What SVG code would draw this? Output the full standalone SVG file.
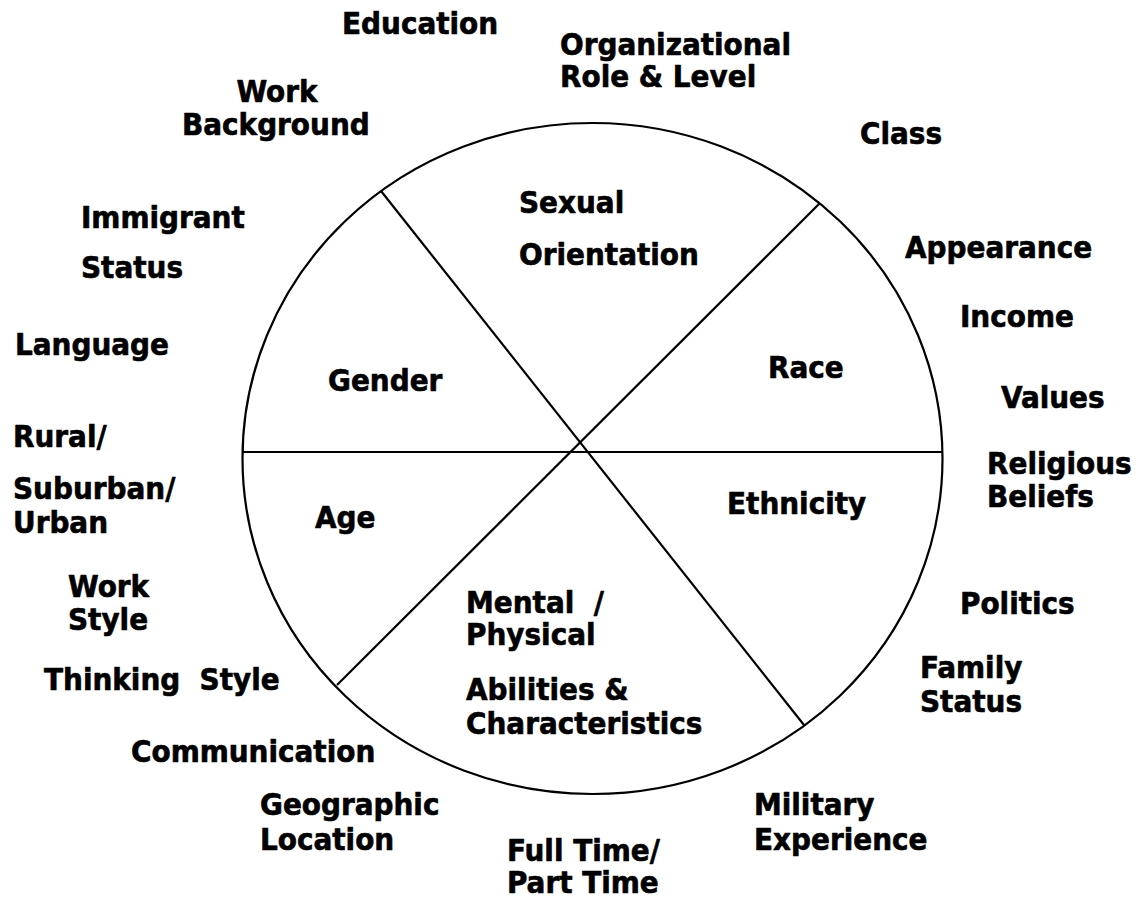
<svg xmlns="http://www.w3.org/2000/svg" width="1138" height="898" viewBox="0 0 1138 898">
<style>
text{font-family:"DejaVu Sans Condensed","DejaVu Sans",Verdana,sans-serif;font-stretch:condensed;font-weight:bold;font-size:31px;fill:#000;stroke:#000;stroke-width:0.6;stroke-linejoin:round}
.ln{stroke:#000;stroke-width:2.2;fill:none}
</style>
<rect width="1138" height="898" fill="#fff"/>
<g id="wheel">
<ellipse class="ln" cx="592.5" cy="458.5" rx="350" ry="335.5" stroke-width="2.6"/>
</g>
<g id="connectors">
<line class="ln" x1="243" y1="452" x2="942" y2="452"/>
<line class="ln" x1="381" y1="191" x2="804" y2="725"/>
<line class="ln" x1="820" y1="203" x2="337" y2="685"/>
</g>
<g id="sexual-orientation"><text x="519" y="213">Sexual</text><text x="519" y="265">Orientation</text></g>
<g id="gender"><text x="328" y="391">Gender</text></g>
<g id="race"><text x="768" y="378">Race</text></g>
<g id="age"><text x="315" y="528">Age</text></g>
<g id="ethnicity"><text x="727" y="514">Ethnicity</text></g>
<g id="abilities"><text x="466" y="613" xml:space="preserve">Mental  /</text><text x="466" y="645">Physical</text><text x="466" y="700">Abilities &amp;</text><text x="466" y="734">Characteristics</text></g>
<g id="education"><text x="342" y="34">Education</text></g>
<g id="organizational-role"><text x="560" y="55">Organizational</text><text x="560" y="87">Role &amp; Level</text></g>
<g id="work-background"><text x="277" y="102" text-anchor="middle">Work</text><text x="182" y="135">Background</text></g>
<g id="class"><text x="860" y="144">Class</text></g>
<g id="immigrant-status"><text x="81" y="228">Immigrant</text><text x="81" y="278">Status</text></g>
<g id="appearance"><text x="905" y="258">Appearance</text></g>
<g id="income"><text x="960" y="327">Income</text></g>
<g id="language"><text x="15" y="355">Language</text></g>
<g id="values"><text x="1001" y="408">Values</text></g>
<g id="rural"><text x="13" y="447">Rural/</text><text x="13" y="499">Suburban/</text><text x="13" y="533">Urban</text></g>
<g id="religious-beliefs"><text x="987" y="474">Religious</text><text x="987" y="507">Beliefs</text></g>
<g id="work-style"><text x="68" y="597">Work</text><text x="68" y="630">Style</text></g>
<g id="politics"><text x="960" y="614">Politics</text></g>
<g id="family-status"><text x="920" y="678">Family</text><text x="920" y="712">Status</text></g>
<g id="thinking-style"><text x="44" y="690" xml:space="preserve">Thinking  Style</text></g>
<g id="communication"><text x="131" y="762">Communication</text></g>
<g id="geographic-location"><text x="260" y="815">Geographic</text><text x="260" y="850">Location</text></g>
<g id="military-experience"><text x="754" y="815">Military</text><text x="754" y="850">Experience</text></g>
<g id="full-part-time"><text x="507" y="861">Full Time/</text><text x="507" y="893">Part Time</text></g>
</svg>
